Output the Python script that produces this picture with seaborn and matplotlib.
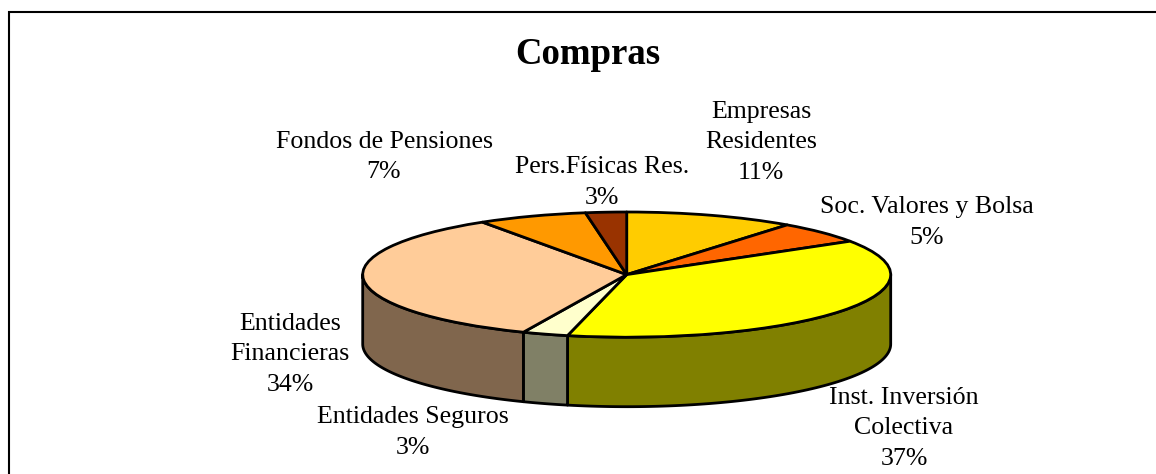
import numpy as np
import matplotlib
matplotlib.use("Agg")
import matplotlib.pyplot as plt
import seaborn as sns

title = "Compras"
categories = ["Empresas\nResidentes", "Soc. Valores y Bolsa", "Inst. Inversión\nColectiva",
              "Entidades Seguros", "Entidades\nFinancieras", "Fondos de Pensiones", "Pers.Físicas Res."]
shares = [10.4, 5.65, 37.55, 2.8, 34.4, 6.7, 2.5]
percent_labels = ["11%", "5%", "37%", "3%", "34%", "7%", "3%"]
top_colors = ["#FFCC00", "#FF6600", "#FFFF00", "#FFFFCC", "#FFCC99", "#FF9900", "#993300"]
side_colors = ["#806600", "#803300", "#808000", "#808066", "#80664D", "#804D00", "#4D1A00"]
# label centres, figure pixels (x, y of first line's centre)
label_pos = [(761, 112), (927, 207), (904, 398), (413, 417), (290, 324), (384, 142), (602, 167)]

W, H = 1156, 474
sns.set_theme(style="white", rc={"font.family": ["Liberation Serif"]})
fig = plt.figure(figsize=(W / 100, H / 100), dpi=100, facecolor="white")

# canvas in pixels for frame and text
bg = fig.add_axes([0, 0, 1, 1])
bg.set_xlim(0, W); bg.set_ylim(H, 0); bg.axis("off")
bg.plot([9, 9, W], [H, 11.5, 11.5], color="black", lw=1.5, solid_capstyle="butt", solid_joinstyle="miter")

# pie axes: one data unit = ellipse semi-axis
cx, cy, a, b, depth = 626.7, 274.6, 264.0, 62.6, 69.5
ax = fig.add_axes([(cx - a * 1.5) / W, 1 - (cy + b * 3) / H, a * 3 / W, b * 6 / H])
ax.set_facecolor("none")
edge = dict(edgecolor="black", linewidth=2.0, joinstyle="round")
ax.pie(shares, colors=top_colors, startangle=90, counterclock=False, radius=1.0,
       wedgeprops={**edge, "zorder": 5}, frame=True)
ax.set_aspect("auto")
ax.set_xlim(-1.5, 1.5); ax.set_ylim(-3, 3)
ax.axis("off")

# extruded side walls from the same shares
d = depth / b
edges = np.cumsum([0] + shares) / sum(shares) * 2 * np.pi
for i in range(len(shares)):
    lo, hi = max(edges[i], np.pi / 2), min(edges[i + 1], 3 * np.pi / 2)
    if hi <= lo:
        continue
    t = np.linspace(lo, hi, 80)
    x, y = np.sin(t), np.cos(t)
    ax.fill(np.r_[x, x[::-1]], np.r_[y, y[::-1] - d], facecolor=side_colors[i], zorder=2, **edge)

# labels
for name, pct, (lx, ly) in zip(categories, percent_labels, label_pos):
    lines = name.split("\n") + [pct]
    for j, line in enumerate(lines):
        bg.text(lx, ly + j * 30.5, line, ha="center", va="center", fontsize=18.6, color="black",
                fontfamily="Liberation Serif")
bg.text(588, 54, title, ha="center", va="center", fontsize=26.5, fontweight="bold", color="black",
        fontfamily="Liberation Serif")
fig.savefig("out.png", dpi=100)
